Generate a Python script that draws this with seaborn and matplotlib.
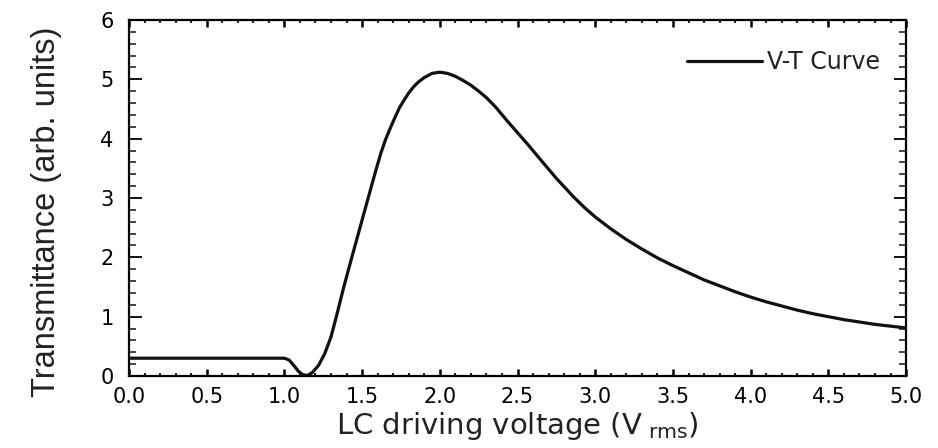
import matplotlib
matplotlib.use('Agg')
import matplotlib.pyplot as plt
import seaborn as sns
from matplotlib.ticker import MultipleLocator

# V-T curve
voltage = [0.0, 1.00, 1.03, 1.06, 1.09, 1.12, 1.15, 1.18, 1.22, 1.26, 1.30,
           1.34, 1.38, 1.44, 1.50, 1.56, 1.59, 1.62, 1.65, 1.68, 1.71, 1.74,
           1.77, 1.80, 1.83, 1.86, 1.90, 1.95, 2.00, 2.05, 2.10, 2.15, 2.20,
           2.25, 2.30, 2.36, 2.43, 2.50, 2.57, 2.65, 2.75, 2.86, 2.93, 3.00,
           3.10, 3.20, 3.30, 3.40, 3.50, 3.60, 3.70, 3.80, 3.90, 4.00, 4.10,
           4.20, 4.30, 4.40, 4.50, 4.60, 4.70, 4.80, 4.90, 5.00]
transmittance = [0.30, 0.30, 0.27, 0.18, 0.08, 0.02, 0.01, 0.06, 0.18, 0.38, 0.66,
                 1.06, 1.48, 2.06, 2.63, 3.20, 3.48, 3.75, 3.98, 4.17, 4.35, 4.52,
                 4.65, 4.77, 4.87, 4.95, 5.03, 5.10, 5.12, 5.10, 5.05, 4.98, 4.90,
                 4.80, 4.69, 4.53, 4.31, 4.10, 3.89, 3.64, 3.33, 3.02, 2.84, 2.68,
                 2.48, 2.30, 2.14, 1.99, 1.86, 1.74, 1.62, 1.52, 1.42, 1.33, 1.25,
                 1.18, 1.11, 1.05, 1.00, 0.95, 0.91, 0.87, 0.84, 0.81]
series_label = 'V-T Curve'

x_ticks = [0.0, 0.5, 1.0, 1.5, 2.0, 2.5, 3.0, 3.5, 4.0, 4.5, 5.0]
y_ticks = [0, 1, 2, 3, 4, 5, 6]

sns.set_theme(style='ticks')
plt.rcParams['font.family'] = ['DejaVu Sans']
plt.rcParams['mathtext.default'] = 'regular'

fig = plt.figure(figsize=(9.38, 4.48), dpi=100)
ax = fig.add_axes([0.1375, 0.1607, 0.8285, 0.7947])

sns.lineplot(x=voltage, y=transmittance, ax=ax, color='#111111',
             linewidth=2.3, label=series_label)

ax.set_xlim(0, 5)
ax.set_ylim(0, 6)
ax.set_xticks(x_ticks)
ax.set_xticklabels([f'{v:.1f}' for v in x_ticks])
ax.set_yticks(y_ticks)
ax.xaxis.set_minor_locator(MultipleLocator(0.1))
ax.yaxis.set_minor_locator(MultipleLocator(0.2))

for s in ax.spines.values():
    s.set_linewidth(1.6)
    s.set_color('black')

ax.tick_params(axis='x', which='major', direction='in', top=True, bottom=True,
               length=5, width=1.8, labelsize=15, pad=8, colors='black')
ax.tick_params(axis='x', which='minor', direction='in', top=True, bottom=True,
               length=2.5, width=1.5)
ax.tick_params(axis='y', which='major', direction='in', left=True, right=True,
               length=9, width=1.3, labelsize=15, pad=11, colors='black')
ax.tick_params(axis='y', which='minor', direction='in', left=True, right=True,
               length=5, width=1.2)

ax.set_xlabel('LC driving voltage (V$_{\\ rms}$)', fontsize=21, color='#222222')
ax.xaxis.set_label_coords(0.5, -0.095)
ax.xaxis.label.set_va('top')
ax.set_ylabel('Transmittance (arb. units)', fontsize=23.5,
              family=['Liberation Sans'], color='#222222')
ax.yaxis.set_label_coords(-0.086, 0.46)

leg = ax.legend(loc='center right', bbox_to_anchor=(0.9665, 0.882),
                frameon=False, fontsize=17, handlelength=3.2, handletextpad=0.2,
                borderpad=0, borderaxespad=0)
for t in leg.get_texts():
    t.set_color('#222222')

fig.savefig('out.png', dpi=100)
